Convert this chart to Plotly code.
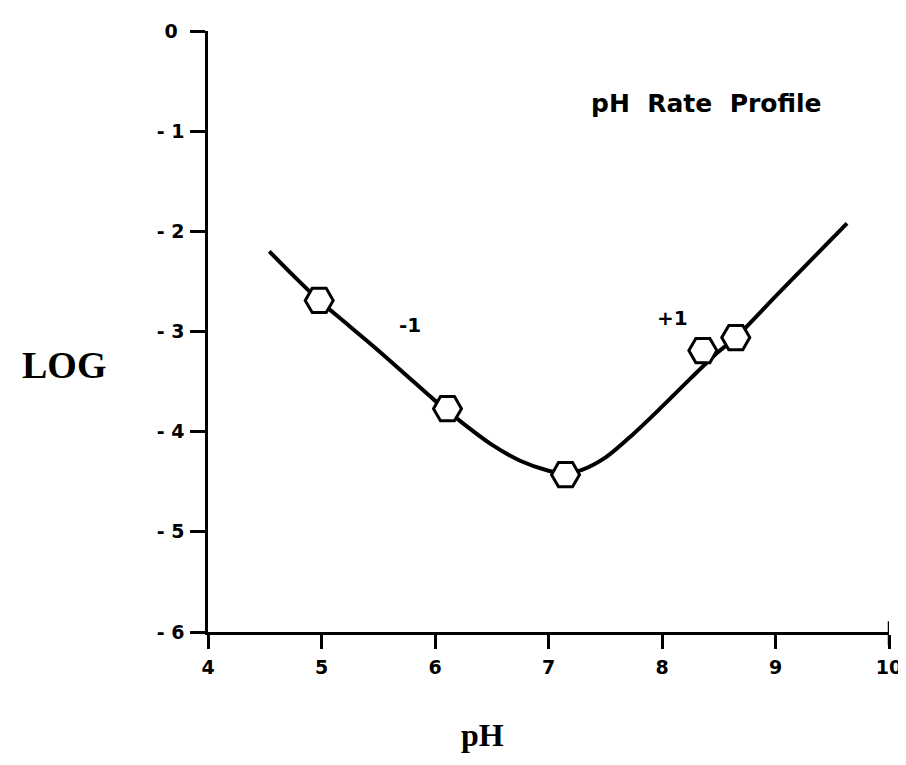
import plotly.graph_objects as go

# Measured data points (pH, log k)
ph_points = [4.98, 6.11, 7.15, 8.36, 8.65]
log_points = [-2.69, -3.77, -4.43, -3.19, -3.06]

# Fitted curve
curve_ph = [4.54, 4.75, 4.97, 5.25, 5.50, 5.75, 6.00, 6.25, 6.50, 6.75, 7.00, 7.15,
            7.30, 7.50, 7.75, 8.00, 8.25, 8.50, 8.65, 9.00, 9.25, 9.63]
curve_log = [-2.20, -2.44, -2.68, -2.95, -3.19, -3.44, -3.69, -3.92, -4.13, -4.29, -4.39, -4.42,
             -4.38, -4.26, -4.02, -3.75, -3.47, -3.20, -3.06, -2.65, -2.36, -1.92]

x_ticks = [4, 5, 6, 7, 8, 9, 10]
x_ticktext = ["4", "5", "6", "7", "8", "9", "10"]
y_ticks = [0, -1, -2, -3, -4, -5, -6]
y_ticktext = ["0\u00a0", "- 1", "- 2", "- 3", "- 4", "- 5", "- 6"]

SANS = "DejaVu Sans"
SERIF = "Liberation Serif"

fig = go.Figure()
fig.add_trace(go.Scatter(
    x=curve_ph, y=curve_log, mode="lines",
    line=dict(color="black", width=4, shape="spline", smoothing=0.9),
    hoverinfo="skip", showlegend=False,
))
fig.add_trace(go.Scatter(
    x=ph_points, y=log_points, mode="markers",
    marker=dict(symbol="hexagon2", size=28, color="white",
                line=dict(color="black", width=3)),
    showlegend=False,
))

fig.update_layout(
    width=906, height=765,
    margin=dict(l=200, r=17, t=22, b=141),
    paper_bgcolor="white", plot_bgcolor="white",
    showlegend=False,
    xaxis=dict(
        range=[4, 10], tickvals=x_ticks, ticktext=x_ticktext,
        showgrid=False, zeroline=False,
        showline=True, linecolor="black", linewidth=2.5,
        ticks="outside", ticklen=14, tickwidth=2.5, tickcolor="black",
        ticklabelstandoff=2,
        tickfont=dict(family=SANS, size=19, color="black", weight="bold"),
    ),
    yaxis=dict(
        range=[-6, 0], tickvals=y_ticks, ticktext=y_ticktext,
        showgrid=False, zeroline=False,
        showline=True, linecolor="black", linewidth=2.5,
        ticks="outside", ticklen=15, tickwidth=2.5, tickcolor="black",
        ticklabelstandoff=2,
        tickfont=dict(family=SANS, size=19, color="black", weight="bold"),
    ),
    shapes=[
        dict(type="line", xref="x", yref="paper", x0=10, x1=10, y0=-0.022, y1=0.018,
             line=dict(color="black", width=2.5)),
    ],
    annotations=[
        dict(text="pH\u00a0\u00a0Rate\u00a0\u00a0Profile", x=8.39, y=-0.72, xref="x", yref="y",
             xanchor="center", showarrow=False,
             font=dict(family=SANS, size=25, color="black", weight="bold")),
        dict(text="-1", x=5.78, y=-2.94, xref="x", yref="y", showarrow=False,
             xanchor="center", font=dict(family=SANS, size=20, color="black", weight="bold")),
        dict(text="+1", x=8.09, y=-2.87, xref="x", yref="y", showarrow=False,
             xanchor="center", font=dict(family=SANS, size=20, color="black", weight="bold")),
        dict(text="<b>LOG</b>", x=-0.212, y=-3.33, xref="paper", yref="y", showarrow=False,
             xanchor="center", font=dict(family=SERIF, size=38, color="black")),
        dict(text="<b>pH</b>", x=6.42, y=-0.205, xref="x", yref="paper", showarrow=False,
             xanchor="center", font=dict(family=SERIF, size=32, color="black")),
    ],
)

fig.write_html("out.html")
